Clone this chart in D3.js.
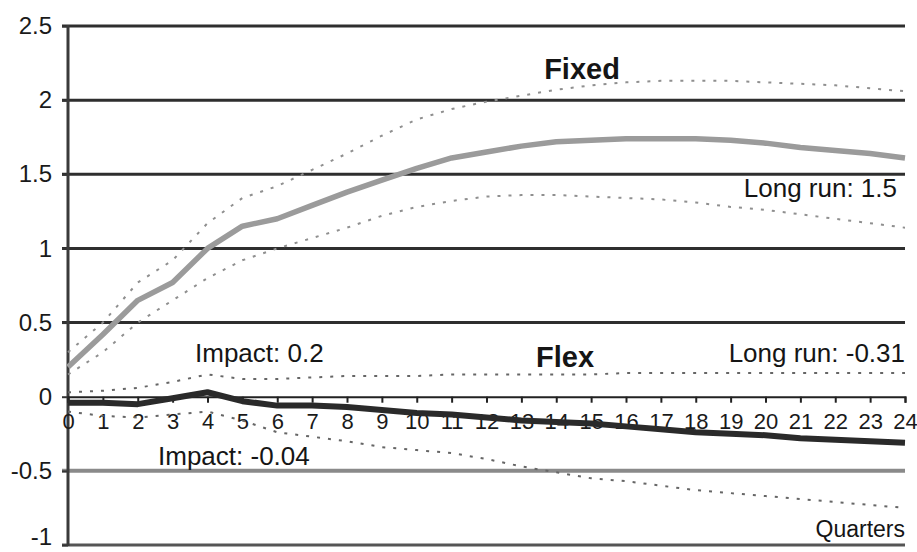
<!DOCTYPE html>
<html>
<head>
<meta charset="utf-8">
<script src="https://cdn.jsdelivr.net/npm/d3@7"></script>
<style>
  html, body { margin: 0; padding: 0; background: #fff; }
  svg { display: block; font-family: "Liberation Sans", Arial, sans-serif; }
</style>
</head>
<body>
<svg id="chart" width="917" height="552"></svg>
<script>
// Quarters after the shock
const quarters = d3.range(0, 25);

// Response under fixed exchange rate regime (point estimate and bands)
const fixedMid   = [0.2, 0.42, 0.65, 0.77, 1.0, 1.15, 1.2, 1.29, 1.38, 1.46, 1.54, 1.61, 1.65, 1.69, 1.72, 1.73, 1.74, 1.74, 1.74, 1.73, 1.71, 1.68, 1.66, 1.64, 1.61];
const fixedUpper = [0.3, 0.5, 0.77, 0.92, 1.17, 1.34, 1.42, 1.53, 1.64, 1.76, 1.87, 1.94, 1.99, 2.03, 2.07, 2.1, 2.12, 2.13, 2.13, 2.13, 2.12, 2.11, 2.1, 2.08, 2.06];
const fixedLower = [0.15, 0.3, 0.5, 0.65, 0.8, 0.92, 1.0, 1.07, 1.14, 1.22, 1.28, 1.32, 1.35, 1.36, 1.36, 1.35, 1.34, 1.33, 1.31, 1.28, 1.26, 1.23, 1.2, 1.17, 1.14];

// Response under flexible exchange rate regime
const flexMid   = [-0.04, -0.04, -0.05, -0.01, 0.03, -0.03, -0.06, -0.06, -0.07, -0.09, -0.11, -0.12, -0.14, -0.16, -0.17, -0.18, -0.2, -0.22, -0.24, -0.25, -0.26, -0.28, -0.29, -0.3, -0.31];
const flexUpper = [0.03, 0.04, 0.06, 0.1, 0.15, 0.12, 0.12, 0.13, 0.14, 0.14, 0.14, 0.15, 0.15, 0.15, 0.15, 0.15, 0.16, 0.16, 0.16, 0.16, 0.16, 0.16, 0.16, 0.16, 0.16];
const flexLower = [-0.1, -0.13, -0.14, -0.12, -0.1, -0.16, -0.24, -0.27, -0.3, -0.34, -0.36, -0.38, -0.42, -0.47, -0.51, -0.55, -0.57, -0.6, -0.63, -0.65, -0.67, -0.69, -0.71, -0.73, -0.75];

// Axis ticks
const yTicks = [-1, -0.5, 0, 0.5, 1, 1.5, 2, 2.5];
const xTicks = quarters;

// Annotation values
const fixedImpact = fixedMid[0];
const fixedLongRun = 1.5;
const flexImpact = flexMid[0];
const flexLongRun = flexMid[flexMid.length - 1];

const svg = d3.select("#chart");
const x = d3.scaleLinear().domain([0, 24]).range([68, 905]);
const y = d3.scaleLinear().domain([-1, 2.5]).range([545, 26]);

// Plain hyphen-minus labels
const plain = d => String(d);

// Horizontal gridlines
const gridColor = v => v === -0.5 ? "#8a8a8a" : (v === -1 ? "#555" : "#2e2e2e");
const gridWidth = v => v === -0.5 ? 4 : 3;
svg.append("g")
  .selectAll("line")
  .data(yTicks.filter(v => v !== 0))
  .join("line")
  .attr("x1", x(0) - 6).attr("x2", x(24))
  .attr("y1", d => y(d)).attr("y2", d => y(d))
  .attr("stroke", gridColor)
  .attr("stroke-width", gridWidth);

// Y axis
const yAxis = svg.append("g")
  .attr("transform", `translate(${x(0)},0)`)
  .call(d3.axisLeft(y).tickValues(yTicks).tickFormat(plain).tickSize(6).tickPadding(10));
yAxis.select(".domain").remove();
yAxis.selectAll(".tick line").attr("stroke", "#333").attr("stroke-width", 2);
yAxis.selectAll(".tick text")
  .attr("font-size", 24).attr("fill", "#1a1a1a")
  .attr("font-family", "Liberation Sans, Arial, sans-serif")
  .attr("y", d => d === -1 ? -8 : 0);
svg.append("line")
  .attr("x1", x(0)).attr("x2", x(0))
  .attr("y1", y(2.5) - 1).attr("y2", y(-1) + 1)
  .attr("stroke", "#3a3a3a").attr("stroke-width", 3);

// X axis along zero
const xAxis = svg.append("g")
  .attr("transform", `translate(0,${y(0)})`)
  .call(d3.axisBottom(x).tickValues(xTicks).tickFormat(plain).tickSize(6).tickPadding(24));
xAxis.select(".domain").attr("stroke", "#222").attr("stroke-width", 2);
xAxis.selectAll(".tick line").attr("stroke", "#222").attr("stroke-width", 2);
xAxis.selectAll(".tick text")
  .attr("font-size", 22).attr("fill", "#1a1a1a")
  .attr("font-family", "Liberation Sans, Arial, sans-serif")
  .attr("dy", "0.1em");

// Series
const line = d3.line().x((d, i) => x(quarters[i])).y(d => y(d));

function band(values, color) {
  svg.append("path")
    .datum(values)
    .attr("d", line)
    .attr("fill", "none")
    .attr("stroke", color)
    .attr("stroke-width", 2)
    .attr("stroke-dasharray", "3,8");
}

band(fixedUpper, "#8f8f8f");
band(fixedLower, "#8f8f8f");
band(flexUpper, "#666");
band(flexLower, "#666");

svg.append("path")
  .datum(fixedMid)
  .attr("d", line)
  .attr("fill", "none")
  .attr("stroke", "#9b9b9b")
  .attr("stroke-width", 5.5)
  .attr("stroke-linejoin", "round");

svg.append("path")
  .datum(flexMid)
  .attr("d", line)
  .attr("fill", "none")
  .attr("stroke", "#2a2a2a")
  .attr("stroke-width", 6)
  .attr("stroke-linejoin", "round");

// Annotations
const ann = svg.append("g").attr("fill", "#151515");
ann.append("text").attr("x", 582).attr("y", 79).attr("text-anchor", "middle")
  .attr("font-size", 29).attr("font-weight", "bold").text("Fixed");
ann.append("text").attr("x", 565).attr("y", 367).attr("text-anchor", "middle")
  .attr("font-size", 29).attr("font-weight", "bold").text("Flex");
ann.append("text").attr("x", 897).attr("y", 197).attr("text-anchor", "end")
  .attr("font-size", 26).text(`Long run: ${fixedLongRun}`);
ann.append("text").attr("x", 905).attr("y", 362).attr("text-anchor", "end")
  .attr("font-size", 26).text(`Long run: ${flexLongRun}`);
ann.append("text").attr("x", 195).attr("y", 362).attr("text-anchor", "start")
  .attr("font-size", 26).text(`Impact: ${fixedImpact}`);
ann.append("text").attr("x", 158).attr("y", 465).attr("text-anchor", "start")
  .attr("font-size", 26).text(`Impact: ${flexImpact}`);
ann.append("text").attr("x", 905).attr("y", 537).attr("text-anchor", "end")
  .attr("font-size", 23).text("Quarters");
</script>
</body>
</html>
